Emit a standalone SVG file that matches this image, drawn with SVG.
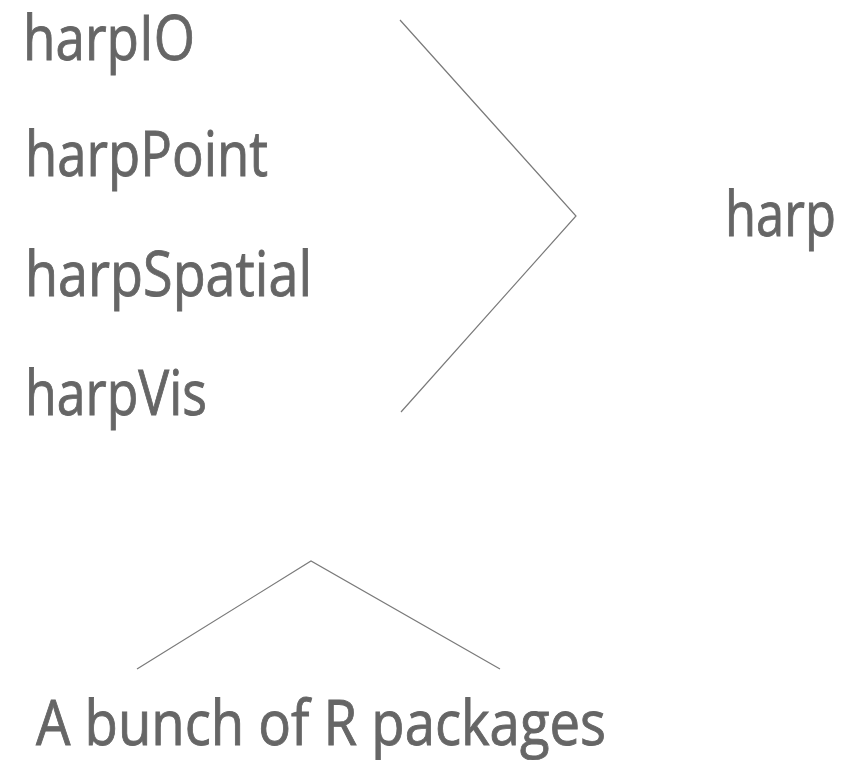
<svg xmlns="http://www.w3.org/2000/svg" width="843" height="760" viewBox="0 0 843 760">
  <style>
    .label { font-family: "Open Sans", "Noto Sans", sans-serif; font-size: 62px; fill: #666666; stroke: #666666; stroke-width: 0.9; }
    .link { fill: none; stroke: #7a7a7a; stroke-width: 1.2; }
  </style>
  <rect width="843" height="760" fill="#ffffff"/>

  <g id="pkg-harpIO"><text class="label" x="23" y="60" textLength="172" lengthAdjust="spacingAndGlyphs">harpIO</text></g>
  <g id="pkg-harpPoint"><text class="label" x="25" y="176" textLength="243" lengthAdjust="spacingAndGlyphs">harpPoint</text></g>
  <g id="pkg-harpSpatial"><text class="label" x="25" y="296" textLength="287" lengthAdjust="spacingAndGlyphs">harpSpatial</text></g>
  <g id="pkg-harpVis"><text class="label" x="25" y="415" textLength="182" lengthAdjust="spacingAndGlyphs">harpVis</text></g>
  <g id="harp"><text class="label" x="725" y="236" textLength="111" lengthAdjust="spacingAndGlyphs">harp</text></g>
  <g id="caption"><text class="label" x="36" y="745" textLength="570" lengthAdjust="spacingAndGlyphs">A bunch of R packages</text></g>

  <g id="connectors">
    <polyline class="link" points="400,20 576,216 401,412"/>
    <polyline class="link" points="137,669 311,561 500,669"/>
  </g>
</svg>
